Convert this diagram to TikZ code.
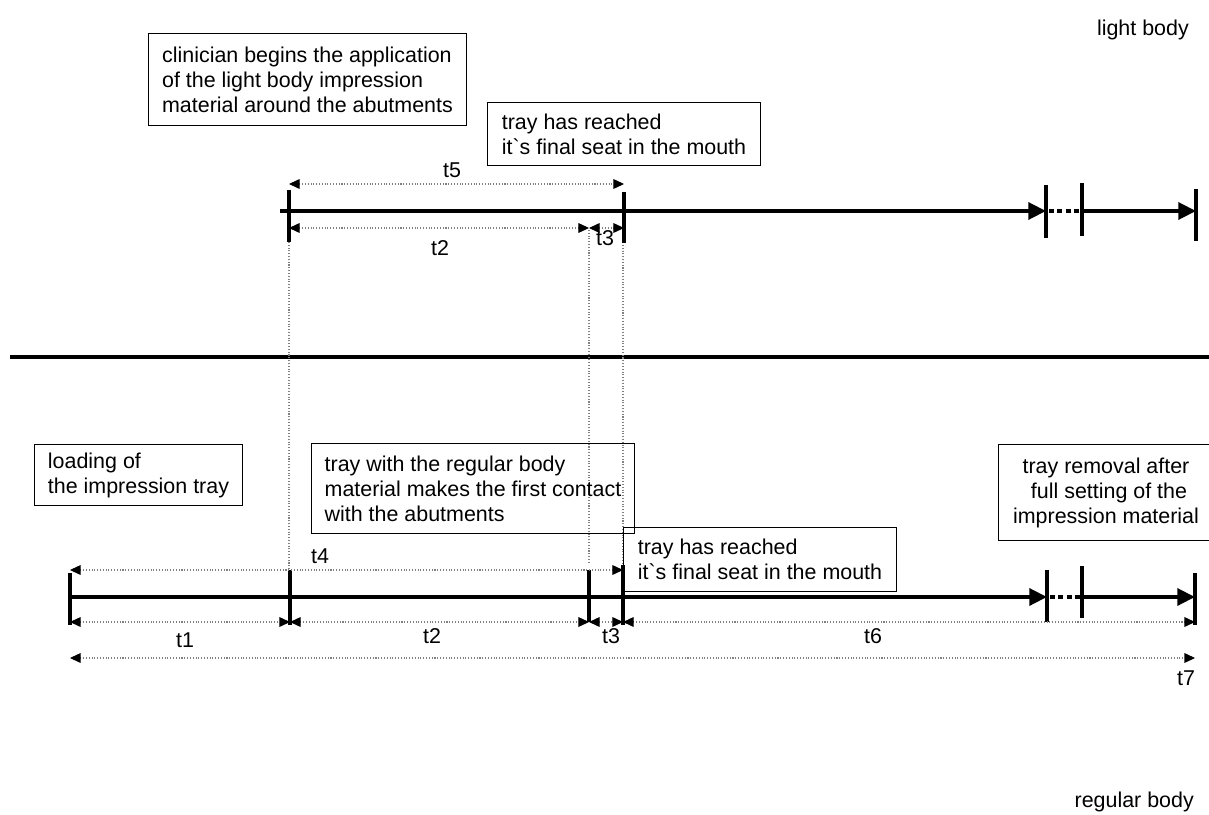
\documentclass[tikz,border=0pt]{standalone}
\usepackage{fontspec}
\setmainfont{Liberation Sans}[Ligatures=TeXOff]
\usetikzlibrary{arrows.meta,positioning,calc}

\begin{document}
\begin{tikzpicture}[x=0.02cm, y=-0.02cm, font=\fontsize{12.2}{14.2}\selectfont,
  tl/.style={line width=2.2pt},
  tickmark/.style={line width=2.2pt},
  bigtip/.style={-{Triangle[length=10pt,width=9.5pt]}},
  dim/.style={densely dotted, line width=0.6pt, gray,
    {Triangle[length=6pt,width=5.5pt,color=black]}-{Triangle[length=6pt,width=5.5pt,color=black]}},
  guide/.style={densely dotted, line width=0.6pt, gray},
  note/.style={draw, line width=0.6pt, anchor=north west, align=left, inner sep=0pt}]
  \useasboundingbox (0,0) rectangle (1209,814);

  \node[anchor=east] (light) at (1195,30) {light body};
  \node[anchor=east] (regular) at (1200,802) {regular body};

  % separator
  \coordinate (sepL) at (10,357);
  \coordinate (sepR) at (1209,357);
  \draw[line width=2.2pt] (sepL) -- (sepR);

  % light body time line
  \coordinate (a0) at (280,211);
  \coordinate (a1) at (289,211);
  \coordinate (a2) at (589,211);
  \coordinate (a3) at (624,211);
  \coordinate (a4) at (1046,211);
  \coordinate (a5) at (1082,211);
  \coordinate (a6) at (1196,211);
  \draw[tl, bigtip] (a0) -- (a4);
  \draw[tl, dash pattern=on 2.8pt off 2pt] ($(a4)+(3,0)$) -- (a5);
  \draw[tl, bigtip] (a5) -- (a6);
  \foreach \p/\u/\d in {a1/-21/31, a3/-19/32, a4/-26/27, a5/-28/25, a6/-22/30}
    \draw[tickmark] ($(\p)+(0,\u)$) -- ($(\p)+(0,\d)$);

  \draw[dim] ($(a1)+(0,-27)$) -- ($(a3)+(0,-27)$);
  \draw[dim] ($(a1)+(0,17)$) -- ($(a2)+(0,17)$);
  \draw[dim] ($(a2)+(0,17)$) -- ($(a3)+(0,17)$);
  \node (t5) at (452,170) {t5};
  \node (t2a) at (440,248) {t2};
  \node (t3a) at (605,238) {t3};

  % regular body time line
  \coordinate (b0) at (70,597);
  \coordinate (b1) at (290,597);
  \coordinate (b2) at (589,597);
  \coordinate (b3) at (623,597);
  \coordinate (b4) at (1047,597);
  \coordinate (b5) at (1082,597);
  \coordinate (b6) at (1195,597);
  \draw[tl, bigtip] (b0) -- (b4);
  \draw[tl, dash pattern=on 2.8pt off 2pt] ($(b4)+(3,0)$) -- (b5);
  \draw[tl, bigtip] (b5) -- (b6);
  \foreach \p/\u/\d in {b0/-24/28, b1/-27/28, b2/-27/25, b3/-32/28, b4/-27/25, b5/-31/21, b6/-24/28}
    \draw[tickmark] ($(\p)+(0,\u)$) -- ($(\p)+(0,\d)$);

  \draw[dim] ($(b0)+(0,-27)$) -- ($(b3)+(0,-27)$);
  \draw[dim] ($(b0)+(0,25)$) -- ($(b1)+(0,25)$);
  \draw[dim] ($(b1)+(0,25)$) -- ($(b2)+(0,25)$);
  \draw[dim] ($(b2)+(0,25)$) -- ($(b3)+(0,25)$);
  \draw[dim] ($(b3)+(0,25)$) -- ($(b6)+(0,25)$);
  \draw[dim] ($(b0)+(0,61)$) -- ($(b6)+(0,61)$);
  \node (t4) at (320,556) {t4};
  \node (t1) at (185,640) {t1};
  \node (t2b) at (432,636) {t2};
  \node (t3b) at (611,636) {t3};
  \node (t6) at (873,636) {t6};
  \node (t7) at (1186,678) {t7};

  % guides between the two lines
  \draw[guide] ($(a1)+(0,31)$) -- ($(b1)+(-1,-27)$);
  \draw[guide] ($(a2)+(0,19)$) -- ($(b2)+(0,-35)$);
  \draw[guide] ($(a3)+(-1,34)$) -- ($(b3)+(0,-32)$);

  % notes
  \node[note, minimum width=6.36cm, minimum height=1.84cm] (begin) at (148,33)
    {clinician begins the application\\of the light body impression\\material around the abutments};
  \node[note, minimum width=5.46cm, minimum height=1.26cm] (seatA) at (487,102)
    {tray has reached\\it`s final seat in the mouth};
  \node[note, minimum width=4.16cm, minimum height=1.22cm] (load) at (34,444)
    {loading of\\the impression tray};
  \node[note, minimum width=6.46cm, minimum height=1.8cm] (contact) at (311,443)
    {tray with the regular body\\material makes the first contact\\with the abutments};
  \node[note, minimum width=5.46cm, minimum height=1.28cm] (seatB) at (623,527)
    {tray has reached\\it`s final seat in the mouth};
  \node[note, align=center, minimum width=4.3cm, minimum height=1.92cm] (removal) at (998,444)
    {tray removal after\\\ full setting of the\\impression material};
\end{tikzpicture}
\end{document}
